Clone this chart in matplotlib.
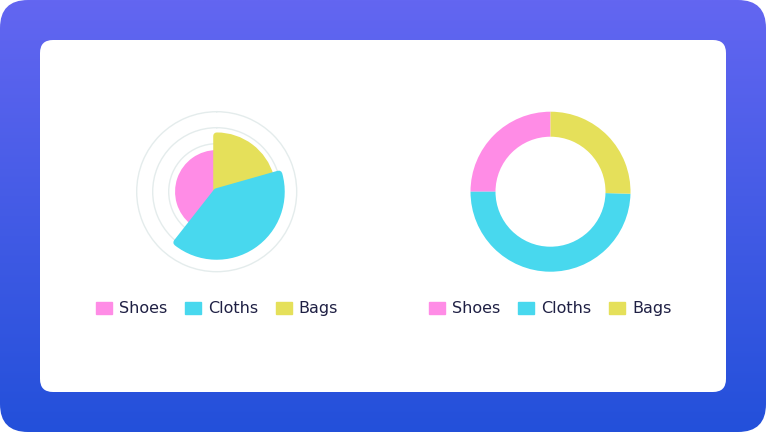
import numpy as np
import matplotlib
matplotlib.use("Agg")
import matplotlib.pyplot as plt
from matplotlib.patches import FancyBboxPatch, Patch

# データ
labels = ["Shoes", "Cloths", "Bags"]
colors = ["#FF8CE6", "#48D8EE", "#E5E05A"]
polar_share = [39.4, 40.0, 20.6]      # 角度の割合 (%)
polar_value = [52, 85, 74]            # 半径 (0-100)
polar_rings = [20, 40, 60, 80, 100]
donut_value = [25.0, 49.6, 25.4]

W, H = 766, 432
fig = plt.figure(figsize=(W / 100, H / 100), dpi=100)
fig.patch.set_facecolor("white")

# 背景（グラデーション + カード）
bg = fig.add_axes([0, 0, 1, 1])
bg.set_xlim(0, W)
bg.set_ylim(H, 0)
bg.axis("off")
grad = np.linspace(0, 1, 256).reshape(-1, 1)
top = np.array([99, 102, 241]) / 255
bottom = np.array([35, 80, 218]) / 255
img = top + (bottom - top) * grad[..., None]
img = np.repeat(img, 2, axis=1)
frame = FancyBboxPatch((0, 0), W, H, boxstyle="round,pad=0,rounding_size=28",
                       facecolor="none", edgecolor="none")
bg.add_patch(frame)
im = bg.imshow(img, extent=[0, W, H, 0], aspect="auto", zorder=0)
im.set_clip_path(frame)
card = FancyBboxPatch((40, 40), 686, 352, boxstyle="round,pad=0,rounding_size=13",
                      facecolor="white", edgecolor="none", zorder=1)
bg.add_patch(card)


def px_axes(cx, cy, r):
    return [(cx - r) / W, (H - cy - r) / H, 2 * r / W, 2 * r / H]


legend_kw = dict(loc="upper center", ncol=3, frameon=False, fontsize=11.5,
                 handlelength=1.0, handleheight=0.75, handletextpad=0.45,
                 columnspacing=1.1, labelcolor="#1F2044")
handles = [Patch(facecolor=c, edgecolor=c, label=l) for c, l in zip(colors, labels)]
legend_y = 1 - 287 / H

# 左: ポーラーエリア
cx, cy = 216.7, 191.7
rmax = 102
ax1 = fig.add_axes(px_axes(cx, cy, 80 * rmax / 100), projection="polar")
ax1.set_theta_zero_location("N")
ax1.set_theta_direction(1)
ax1.set_ylim(0, rmax)
ax1.set_xticks([])
ax1.set_yticks(polar_rings)
ax1.set_yticklabels([])
ax1.grid(True, color="#E4ECEC", linewidth=1.0)
ax1.spines["polar"].set_visible(False)
ax1.set_facecolor("none")

start = np.concatenate([[0], np.cumsum(polar_share)[:-1]]) / 100 * 2 * np.pi
width = np.array(polar_share) / 100 * 2 * np.pi
order = [0, 2, 1]
for i in order:
    ax1.bar(start[i], polar_value[i] - 4.3, width=width[i], bottom=0, align="edge",
            color=colors[i], edgecolor=colors[i], linewidth=5, joinstyle="round",
            zorder=3)

fig.legend(handles=handles, bbox_to_anchor=((cx + 0.3) / W, legend_y), **legend_kw)

# 右: ドーナツ
cx2, cy2 = 550.5, 191.7
ax2 = fig.add_axes(px_axes(cx2, cy2, 80))
ax2.pie(donut_value, colors=colors, startangle=90, counterclock=True,
        radius=1.0, wedgeprops=dict(width=25 / 80, edgecolor="none"))
ax2.set_xlim(-1, 1)
ax2.set_ylim(-1, 1)
ax2.set_aspect("equal")
ax2.axis("off")

fig.legend(handles=handles, bbox_to_anchor=(cx2 / W, legend_y), **legend_kw)

fig.savefig("out.png", dpi=100)
